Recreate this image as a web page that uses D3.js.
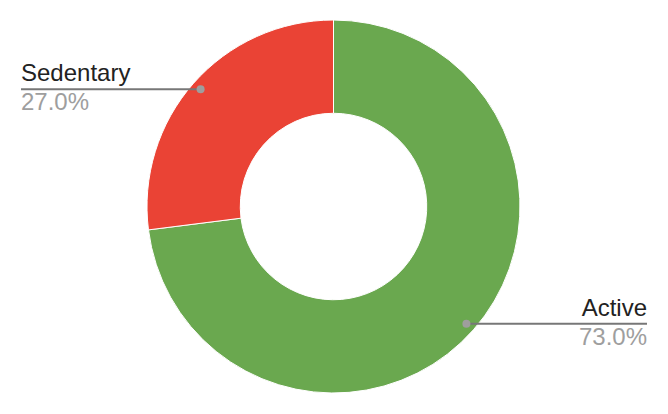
<!DOCTYPE html>
<html><head><meta charset="utf-8">
<script src="https://cdn.jsdelivr.net/npm/d3@7"></script>
<style>html,body{margin:0;padding:0;background:#fff;}svg{display:block;}</style>
</head><body>
<svg id="chart" width="668" height="414"></svg>
<script>
const categories = ["Active", "Sedentary"];
const values = [73.0, 27.0];
const colors = ["#6aa84f", "#ea4335"];

const svg = d3.select("#chart");
const cx = 333.5, cy = 206.5, R = 186.5, r0 = 93.25;
const g = svg.append("g").attr("transform", `translate(${cx},${cy})`);

const data = categories.map((c, i) => ({name: c, value: values[i], color: colors[i]}));
const pie = d3.pie().value(d => d.value).sort(null);
const arcs = pie(data);
const arc = d3.arc().innerRadius(r0).outerRadius(R);

g.selectAll("path").data(arcs).join("path")
  .attr("d", arc).attr("fill", d => d.data.color)
  .attr("stroke", "#fff").attr("stroke-width", 1);

const total = d3.sum(values);
const labelArc = d3.arc().innerRadius(R * 0.95).outerRadius(R * 0.95);
const ends = {Active: 647, Sedentary: 21};

arcs.forEach(d => {
  const [px, py] = labelArc.centroid(d);
  const x = cx + px, y = cy + py;
  const right = x > cx;
  const xe = ends[d.data.name];
  svg.append("line").attr("x1", x).attr("y1", y).attr("x2", xe).attr("y2", y)
    .attr("stroke", "#777").attr("stroke-width", 2);
  svg.append("circle").attr("cx", x).attr("cy", y).attr("r", 4).attr("fill", "#9e9e9e");
  svg.append("text").attr("x", xe).attr("y", y - 8)
    .attr("text-anchor", right ? "end" : "start")
    .attr("font-family", "Liberation Sans, Arial, sans-serif").attr("font-size", 24)
    .attr("fill", "#222").text(d.data.name);
  svg.append("text").attr("x", xe).attr("y", y + 21)
    .attr("text-anchor", right ? "end" : "start")
    .attr("font-family", "Liberation Sans, Arial, sans-serif").attr("font-size", 24)
    .attr("fill", "#9e9e9e").text((d.data.value / total * 100).toFixed(1) + "%");
});
</script>
</body></html>
